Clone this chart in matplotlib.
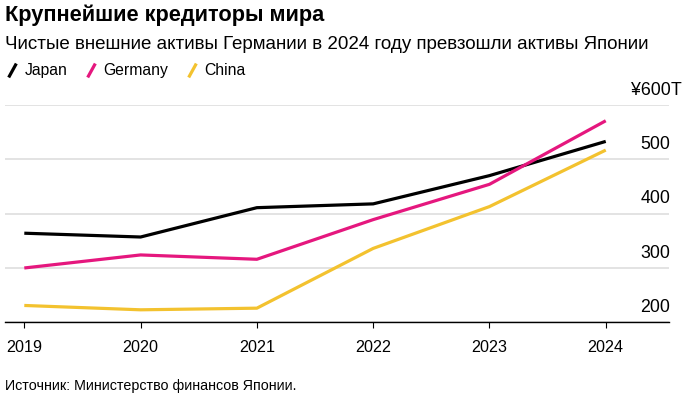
import matplotlib.pyplot as plt
from matplotlib.lines import Line2D

plt.rcParams['font.family'] = ['Liberation Sans', 'DejaVu Sans']

years = [2019, 2020, 2021, 2022, 2023, 2024]
japan = [364, 357, 411, 418, 470, 533]
germany = [300, 324, 316, 389, 454, 571]
china = [231, 223, 226, 336, 413, 517]
ytick_vals = [200, 300, 400, 500, 600]
ytick_labels = ['200', '300', '400', '500', '¥600']

c_japan = '#000000'
c_germany = '#e5177e'
c_china = '#f3c22f'

fig = plt.figure(figsize=(6.92, 3.98), dpi=100)
ax = fig.add_axes([5 / 692, 1 - 322.3 / 398, 664 / 692, (322.3 - 105) / 398])

ax.plot(years, japan, color=c_japan, lw=2.3, solid_capstyle='butt', zorder=3)
ax.plot(years, germany, color=c_germany, lw=2.3, solid_capstyle='butt', zorder=3)
ax.plot(years, china, color=c_china, lw=2.3, solid_capstyle='butt', zorder=3)

ax.set_xlim(2019 - 0.166, 2024.544)
ax.set_ylim(200, 600)
ax.set_xticks(years)
ax.set_xticklabels([str(y) for y in years], fontsize=11.6)
ax.tick_params(axis='x', length=4.5, width=0.8, pad=8, colors='#000000')
ax.set_yticks(ytick_vals)
ax.set_yticklabels([])
ax.tick_params(axis='y', length=0)
ax.grid(axis='y', color='#dedede', lw=1.2)
ax.set_axisbelow(True)
for s in ['top', 'left', 'right']:
    ax.spines[s].set_visible(False)
ax.spines['bottom'].set_linewidth(1.0)

# y labels sit above their gridlines on the right
for v, lab in zip(ytick_vals, ytick_labels):
    ax.annotate(lab, xy=(1.0, v), xycoords=('axes fraction', 'data'),
                xytext=(1, 7.5), textcoords='offset points',
                ha='right', va='baseline', fontsize=12.8)
    if v == 600:
        ax.annotate('T', xy=(1.0, v), xycoords=('axes fraction', 'data'),
                    xytext=(1, 7.5), textcoords='offset points',
                    ha='left', va='baseline', fontsize=12.8)

fig.text(5 / 692, 1 - 21 / 398, 'Крупнейшие кредиторы мира', fontsize=15.7,
         fontweight='bold', ha='left', va='baseline')
fig.text(5 / 692, 1 - 49 / 398,
         'Чистые внешние активы Германии в 2024 году превзошли активы Японии',
         fontsize=13.5, ha='left', va='baseline')
fig.text(5 / 692, 1 - 390 / 398, 'Источник: Министерство финансов Японии.',
         fontsize=10.3, ha='left', va='baseline')

slash = [(-0.55, -1), (0.55, 1)]
handles = [Line2D([], [], ls='none', marker=slash, markersize=10,
                  markeredgewidth=2.3, color=c) for c in (c_japan, c_germany, c_china)]
fig.legend(handles, ['Japan', 'Germany', 'China'], loc='upper left',
           bbox_to_anchor=(1 / 692, 1 - 60 / 398), ncol=3, frameon=False,
           fontsize=11.3, handlelength=1.0, handletextpad=0.3, columnspacing=1.0,
           borderpad=0.2, borderaxespad=0)

fig.savefig('out.png', dpi=100)
